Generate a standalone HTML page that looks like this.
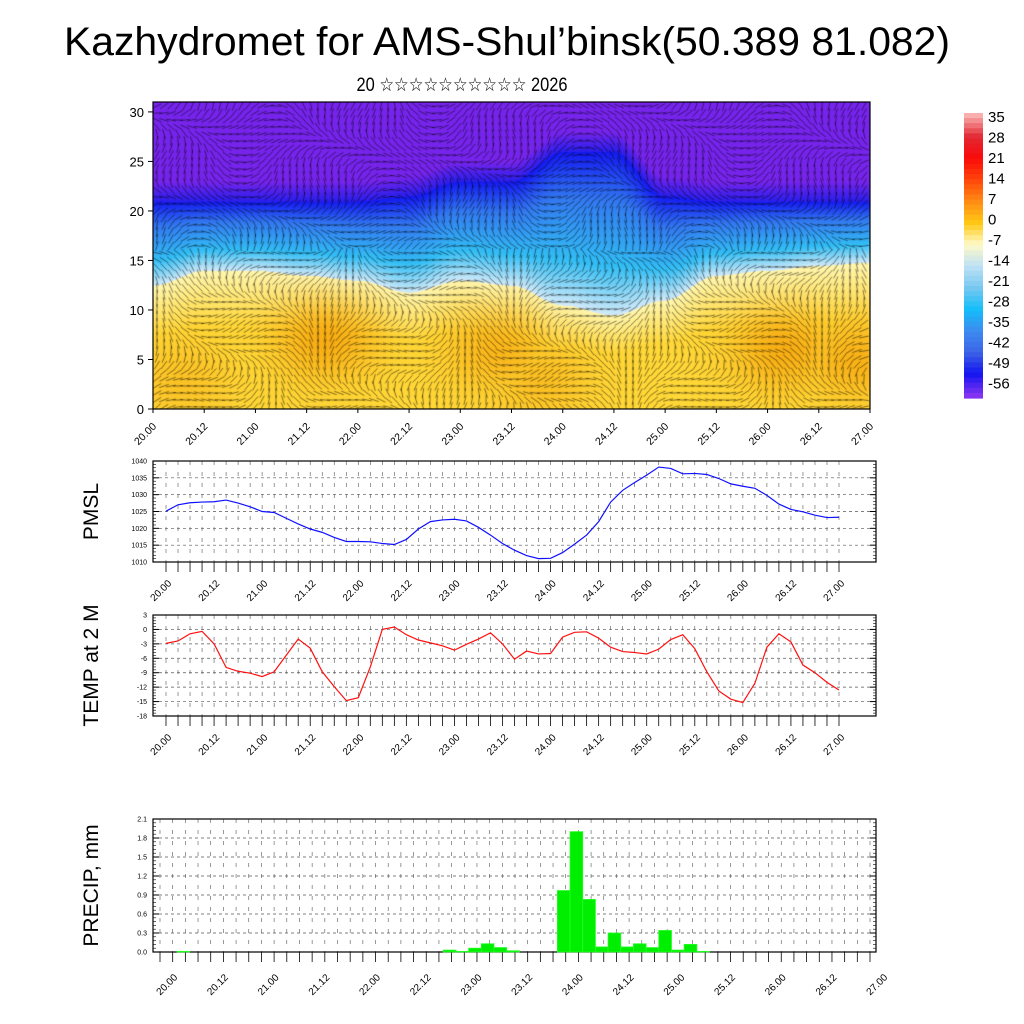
<!DOCTYPE html>
<html><head><meta charset="utf-8">
<style>
html,body{margin:0;padding:0;background:#fff;}
#wrap{position:relative;width:1024px;height:1024px;overflow:hidden;}
svg{position:absolute;left:0;top:0;}
canvas{position:absolute;left:153px;top:102px;}
text{font-family:"Liberation Sans","DejaVu Sans",sans-serif;fill:#000;}
</style></head>
<body>
<div id="wrap">
<canvas id="field" width="717" height="307"></canvas>
<svg id="svg" width="1024" height="1024">
<text x="507" y="55" text-anchor="middle" font-size="40" textLength="886" lengthAdjust="spacingAndGlyphs">Kazhydromet for AMS-Shul’binsk(50.389 81.082)</text>
<text x="462" y="91" text-anchor="middle" font-size="19" textLength="211" lengthAdjust="spacingAndGlyphs">20 ☆☆☆☆☆☆☆☆☆☆ 2026</text>
</svg>
</div>
<script>
// ---- data ----
var timeLabels = ["20.00","20.12","21.00","21.12","22.00","22.12","23.00","23.12","24.00","24.12","25.00","25.12","26.00","26.12","27.00"];
var pmsl = [1025.1,1027.0,1027.6,1027.8,1027.9,1028.4,1027.5,1026.4,1025.0,1024.7,1023.0,1021.3,1019.8,1018.8,1017.3,1016.1,1016.1,1016.0,1015.5,1015.2,1016.7,1019.8,1022.0,1022.5,1022.7,1022.2,1020.3,1018.0,1015.5,1013.5,1011.9,1011.0,1011.1,1012.8,1015.3,1018.0,1022.0,1027.8,1031.3,1033.6,1035.8,1038.2,1037.8,1036.2,1036.3,1036.0,1034.8,1033.2,1032.5,1031.9,1029.8,1027.2,1025.6,1024.9,1023.9,1023.2,1023.3];
var temp2m = [-2.9,-2.4,-0.9,-0.4,-3,-7.9,-8.7,-9.1,-9.8,-8.8,-5.4,-2,-3.9,-8.8,-11.9,-14.8,-14.2,-7.8,0,0.5,-1.1,-2.2,-2.8,-3.4,-4.3,-3.1,-2,-0.7,-3,-6.2,-4.5,-5.1,-5,-1.6,-0.6,-0.5,-1.8,-3.7,-4.6,-4.8,-5.1,-4.1,-2.1,-1.1,-4,-8.8,-12.8,-14.5,-15.2,-11.2,-3.7,-0.9,-2.6,-7.4,-9,-11,-12.6];
var precip = [0,0,0.01,0,0,0,0,0,0,0,0,0,0,0,0,0,0,0,0,0,0,0,0,0.03,0.01,0.06,0.13,0.07,0.02,0,0,0,0.97,1.9,0.83,0.08,0.3,0.08,0.13,0.07,0.34,0.03,0.12,0.01,0,0,0,0,0,0,0,0,0,0,0,0,0];
var pmslTicks = [1010,1015,1020,1025,1030,1035,1040];
var tempTicks = [-18,-15,-12,-9,-6,-3,0,3];
var precipTicks = [0,0.3,0.6,0.9,1.2,1.5,1.8,2.1];
var cbarLabels = ["35","28","21","14","7","0","-7","-14","-21","-28","-35","-42","-49","-56"];
var heightTicks = [0,5,10,15,20,25,30];
var warmTop = [12.5,14,14,13.5,13,11.8,13,12.5,10.5,9.5,11,13.5,14,14.5,14.8];
var coldTop = [21,21,21,21,21,21.5,23,23,26,26,21.5,21,21,21,21];
// warm cores: [time fraction, height, strength]
var warmCores = [[0.24,7,1],[0.48,6,0.8],[0.54,3,0.6],[0.88,6,1],[0.98,5,0.9],[0.04,3,0.5]];

var NS="http://www.w3.org/2000/svg";
var svg=document.getElementById('svg');
function mk(tag,attrs,parent){var e=document.createElementNS(NS,tag);for(var k in attrs)e.setAttribute(k,attrs[k]);(parent||svg).appendChild(e);return e;}
function txt(x,y,s,size,anchor,parent,rot){var t=mk('text',{x:x,y:y,'font-size':size,'text-anchor':anchor||'start'},parent);if(rot)t.setAttribute('transform','rotate('+rot+' '+x+' '+y+')');t.textContent=s;return t;}

// ---- main cross-section ----
var MX0=153,MX1=870,MY0=102,MY1=409,HMAX=31;
function mxs(i){return MX0+i*(MX1-MX0)/56;}
function mys(h){return MY1-h*(MY1-MY0)/HMAX;}
function interp(arr,t){var p=t*(arr.length-1);var i=Math.min(arr.length-2,Math.floor(p));var f=p-i;f=f*f*(3-2*f);return arr[i]*(1-f)+arr[i+1]*f;}
function lerpC(a,b,f){return [a[0]+(b[0]-a[0])*f,a[1]+(b[1]-a[1])*f,a[2]+(b[2]-a[2])*f];}
var cv=document.getElementById('field'),ctx=cv.getContext('2d');
var W=cv.width,H=cv.height,img=ctx.createImageData(W,H);
for(var px=0;px<W;px++){
  var t=px/(W-1),wt=interp(warmTop,t),ct=interp(coldTop,t);
  for(var py=0;py<H;py++){
    var h=(H-py)/H*HMAX,c;
    if(h<wt){
      var d=(wt-h)/wt;
      var base=lerpC([255,246,175],[255,215,55],Math.min(1,d*2.5));
      var o=0;warmCores.forEach(function(w){var dx=(t-w[0])/0.07,dy=(h-w[1])/4;o=Math.max(o,w[2]*Math.exp(-(dx*dx+dy*dy)));});
      c=lerpC(base,[246,168,15],o*0.9);
    }else if(h<ct){
      var f=(h-wt)/(ct-wt);
      if(f<0.3)c=lerpC([210,234,248],[50,190,245],f/0.3);
      else if(f<0.7)c=lerpC([50,190,245],[50,120,240],(f-0.3)/0.4);
      else c=lerpC([50,120,240],[20,25,240],(f-0.7)/0.3);
    }else{
      var g=Math.min(1,(h-ct)/2);
      c=lerpC([40,30,235],[118,36,235],g);
    }
    var k=(py*W+px)*4;img.data[k]=c[0];img.data[k+1]=c[1];img.data[k+2]=c[2];img.data[k+3]=255;
  }
}
ctx.putImageData(img,0,0);
// wind vectors (decorative texture)
ctx.strokeStyle='rgba(0,0,0,0.7)';ctx.lineWidth=0.7;
for(var gx=4;gx<W;gx+=7){for(var gy=4;gy<H;gy+=7){
  var tt=gx/W,hh=(H-gy)/H*HMAX;
  var ang=Math.sin(tt*18+hh*0.3)*1.2+Math.cos(hh*0.5-tt*9)*0.8+(hh>16?0.1:1.4);
  var L=10;ctx.beginPath();ctx.moveTo(gx-Math.cos(ang)*L/2,gy-Math.sin(ang)*L/2);ctx.lineTo(gx+Math.cos(ang)*L/2,gy+Math.sin(ang)*L/2);ctx.stroke();
}}
mk('rect',{x:MX0,y:MY0,width:MX1-MX0,height:MY1-MY0,fill:'none',stroke:'#000','stroke-width':1.2,});
heightTicks.forEach(function(v){var y=mys(v);mk('line',{x1:MX0-5,x2:MX0,y1:y,y2:y,stroke:'#000'});txt(MX0-9,y+5,String(v),13,'end');});
timeLabels.forEach(function(s,i){var x=mxs(i*4);mk('line',{x1:x,x2:x,y1:MY1,y2:MY1+4,stroke:'#000'});txt(x+4,MY1+18,s,10.5,'end',null,-45);});
// colorbar
var cb=mk('g',{});
var cbStops=[[250,175,175],[225,40,50],[250,10,10],[255,70,10],[255,140,20],[255,200,20],[255,250,200],[190,225,245],[120,200,240],[20,190,250],[60,140,240],[60,100,230],[20,20,240],[130,50,240]];
var cbTop=113,cbBot=398,nSeg=56;
for(var s=0;s<nSeg;s++){var f=s/(nSeg-1)*(cbStops.length-1),i0=Math.min(cbStops.length-2,Math.floor(f)),c=lerpC(cbStops[i0],cbStops[i0+1],f-i0);
  mk('rect',{x:964,y:cbTop+s*(cbBot-cbTop)/nSeg,width:19,height:(cbBot-cbTop)/nSeg+0.6,fill:'rgb('+c.map(Math.round).join(',')+')'},cb);}
cbarLabels.forEach(function(s,i){txt(988,122+i*20.5,s,15,'start',cb);});

// ---- line/bar panels ----
function panel(name,y0,y1,vmin,vmax,ticks,title,xs0,xs1,fmt,lx,ly){
  var g=mk('g',{});
  var bx0=153,bx1=876;
  function xs(i){return xs0+i*(xs1-xs0)/56;}
  function ys(v){return y1-(v-vmin)/(vmax-vmin)*(y1-y0);}
  for(var i=0;i<=56;i++){var x=xs(i);mk('line',{x1:x,x2:x,y1:y0,y2:y1,stroke:'#555','stroke-width':0.6,'stroke-dasharray':'4 7'},g);
    mk('line',{x1:x,x2:x,y1:y1,y2:y1+10,stroke:'#000','stroke-width':0.8},g);}
  ticks.forEach(function(v,k){var y=ys(v);
    if(k>0&&k<ticks.length-1)mk('line',{x1:bx0,x2:bx1,y1:y,y2:y,stroke:'#555','stroke-width':0.7,'stroke-dasharray':'3 3'},g);
    mk('line',{x1:bx0,x2:bx0+6,y1:y,y2:y,stroke:'#000'},g);mk('line',{x1:bx1-6,x2:bx1,y1:y,y2:y,stroke:'#000'},g);
    txt(bx0-6,y+2.5,fmt(v),7,'end',g);
    if(k<ticks.length-1){for(var m=1;m<5;m++){var ym=ys(v+(ticks[1]-ticks[0])*m/5);mk('line',{x1:bx0,x2:bx0+3,y1:ym,y2:ym,stroke:'#000','stroke-width':0.6},g);mk('line',{x1:bx1-3,x2:bx1,y1:ym,y2:ym,stroke:'#000','stroke-width':0.6},g);}}
  });
  mk('rect',{x:bx0,y:y0,width:bx1-bx0,height:y1-y0,fill:'none',stroke:'#000','stroke-width':1.2,},g);
  timeLabels.forEach(function(s,i){var x=xs(i*4);txt(x+4+lx,y1+22+ly,s,10,'end',g,-45);});
  var tt=txt(98,(y0+y1)/2,title,21,'middle',g,-90);
  return {g:g,xs:xs,ys:ys};
}
var p1=panel('pmsl',461,562,1010,1040,pmslTicks,'PMSL',166,839,String,2,0);
var pts=pmsl.map(function(v,i){return p1.xs(i)+','+p1.ys(v);}).join(' ');
var l1=mk('polyline',{points:pts,fill:'none',stroke:'#1010ff','stroke-width':1.2},p1.g);



var p2=panel('temp',615,716,-18,3,tempTicks,'TEMP at 2 M',166,839,String,2,0);
var pts2=temp2m.map(function(v,i){return p2.xs(i)+','+p2.ys(v);}).join(' ');
var l2=mk('polyline',{points:pts2,fill:'none',stroke:'#ff1010','stroke-width':1.2},p2.g);



var p3=panel('precip',819,952,0,2.1,precipTicks,'PRECIP, mm',160,870,function(v){return v.toFixed(1);},14,4);
var bw=(870-160)/56;
precip.forEach(function(v,i){if(v<=0)return;
  var y=p3.ys(v);
  var r=mk('rect',{x:p3.xs(i)-bw/2-2,y:y,width:bw,height:952-y,fill:'#00ee00',stroke:'#22ff22','stroke-width':0.8},p3.g);
  
  
});
</script>
</body></html>
